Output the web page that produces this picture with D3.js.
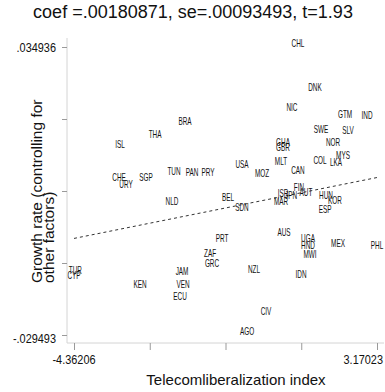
<!DOCTYPE html>
<html>
<head>
<meta charset="utf-8">
<script src="https://cdn.jsdelivr.net/npm/d3@7"></script>
<style>
  body { margin: 0; background: #fff; }
  text { font-family: "Liberation Sans", Arial, sans-serif; }
</style>
</head>
<body>
<div id="chart"></div>
<script>
// country codes, telecom liberalization residual (x), growth residual (y)
const countries = ["CHL","DNK","NIC","GTM","IND","BRA","SWE","SLV","NOR","GHA","GBR","ISL","THA",
  "MLT","COL","LKA","MYS","USA","MOZ","CAN","TUN","PAN","PRY","CHE","URY","SGP","NLD","BEL","SDN",
  "FIN","AUT","ISR","JPN","MAR","HUN","KOR","ESP","AUS","PRT","UGA","HND","MWI","MEX","PHL","ZAF",
  "GRC","JAM","NZL","IDN","KEN","VEN","ECU","CIV","AGO","TUR","CYP"];
const telecomResid = [1.206,1.629,1.057,2.375,2.922,-1.603,1.778,2.449,2.076,0.833,0.833,-3.219,-2.348,
  0.784,1.753,2.151,2.325,-0.186,0.311,1.206,-1.876,-1.429,-1.031,-3.243,-3.069,-2.572,-1.926,-0.534,-0.186,
  1.231,1.405,0.833,1.032,0.784,1.902,2.126,1.878,0.858,-0.683,1.455,1.455,1.505,2.201,3.17023,-0.981,
  -0.932,-1.677,0.113,1.281,-2.721,-1.652,-1.727,0.411,-0.061,-4.33,-4.36206];
const growthResid = [0.034936,0.02509,0.02062,0.01905,0.01883,0.01749,0.0157,0.01547,0.01279,0.01279,0.01167,0.01234,0.01436,
  0.00854,0.00876,0.00831,0.00988,0.00787,0.00585,0.00652,0.0063,0.00608,0.00608,0.00496,0.00339,0.00496,-0.00063,0.00048,-0.00175,
  0.00272,0.0016,0.00116,0.00093,-0.00063,0.00093,-0.00019,-0.0022,-0.00735,-0.00869,-0.00869,-0.01025,-0.01227,-0.00981,-0.0104,-0.01204,
  -0.01428,-0.01607,-0.01562,-0.01674,-0.01898,-0.01898,-0.02166,-0.02502,-0.029493,-0.01585,-0.01697];

const xTickLabels = ["-4.36206", "3.17023"];
const yTickLabels = [".034936", "-.029493"];
const coef = 0.00180871;
const titleText = "coef =.00180871, se=.00093493, t=1.93";
const xTitle = "Telecomliberalization index";
const yTitleLines = ["Growth rate (controlling for", "other factors)"];

const width = 385, height = 392;
const plot = {left: 67, right: 384, top: 38, bottom: 343};

const svg = d3.select("#chart").append("svg")
  .attr("width", width).attr("height", height);
svg.append("rect").attr("width", width).attr("height", height).attr("fill", "#fff");

const xMin = d3.min(telecomResid), xMax = d3.max(telecomResid);
const yMin = d3.min(growthResid), yMax = d3.max(growthResid);

const x = d3.scaleLinear().domain([xMin, xMax]).range([74, 377]);
const y = d3.scaleLinear().domain([yMin, yMax]).range([335, 47]);

// axis lines
svg.append("line").attr("x1", plot.left).attr("x2", plot.left)
  .attr("y1", plot.top).attr("y2", plot.bottom)
  .attr("stroke", "#d4d4d4");
svg.append("line").attr("x1", plot.left).attr("x2", plot.right)
  .attr("y1", plot.bottom).attr("y2", plot.bottom)
  .attr("stroke", "#d4d4d4");

// evenly spaced ticks, only the extremes labelled
const xTicks = d3.range(5).map(i => xMin + i * (xMax - xMin) / 4);
const yTicks = d3.range(5).map(i => yMin + i * (yMax - yMin) / 4);

const gx = svg.append("g").attr("transform", `translate(0,${plot.bottom})`)
  .call(d3.axisBottom(x).tickValues(xTicks).tickSize(7).tickFormat(""));
const gy = svg.append("g").attr("transform", `translate(${plot.left},0)`)
  .call(d3.axisLeft(y).tickValues(yTicks).tickSize(5).tickFormat(""));
[gx, gy].forEach(g => {
  g.select(".domain").remove();
  g.selectAll(".tick line").attr("stroke", "#9a9a9a");
});

// tick labels
const tickFont = 13, squeeze = 0.84;
svg.append("text")
  .attr("transform", `translate(${x(xMin)},364) scale(${squeeze},1)`)
  .attr("text-anchor", "middle").attr("font-size", tickFont).attr("fill", "#111")
  .text(xTickLabels[0]);
svg.append("text")
  .attr("transform", `translate(383,364) scale(${squeeze},1)`)
  .attr("text-anchor", "end").attr("font-size", tickFont).attr("fill", "#111")
  .text(xTickLabels[1]);
svg.append("text")
  .attr("transform", `translate(56,${y(yMax) + 4.5}) scale(${squeeze},1)`)
  .attr("text-anchor", "end").attr("font-size", tickFont).attr("fill", "#111")
  .text(yTickLabels[0]);
svg.append("text")
  .attr("transform", `translate(56,${y(yMin) + 8}) scale(${squeeze},1)`)
  .attr("text-anchor", "end").attr("font-size", tickFont).attr("fill", "#111")
  .text(yTickLabels[1]);

// fitted line through the origin (added-variable plot)
svg.append("path")
  .datum([xMin, xMax])
  .attr("d", d3.line().x(d => x(d)).y(d => y(coef * d)))
  .attr("fill", "none")
  .attr("stroke", "#333")
  .attr("stroke-width", 1)
  .attr("stroke-dasharray", "3,3");

// country labels as markers
svg.append("g").selectAll("text")
  .data(countries)
  .join("text")
  .attr("transform", (d, i) => `translate(${x(telecomResid[i])},${y(growthResid[i]) - 4}) scale(0.64,1)`)
  .attr("text-anchor", "middle")
  .attr("dy", "0.35em")
  .attr("font-size", 10)
  .attr("fill", "#111")
  .text(d => d);

// titles
svg.append("text")
  .attr("x", 193).attr("y", 18)
  .attr("text-anchor", "middle").attr("font-size", 18).attr("fill", "#111")
  .text(titleText);

svg.append("text")
  .attr("x", 236).attr("y", 385)
  .attr("text-anchor", "middle").attr("font-size", 15).attr("fill", "#111")
  .text(xTitle);

svg.append("g")
  .selectAll("text")
  .data(yTitleLines)
  .join("text")
  .attr("transform", (d, i) => `translate(${42 + i * 12},283) rotate(-90)`)
  .attr("text-anchor", "start").attr("font-size", 15.5).attr("fill", "#111")
  .text(d => d);
</script>
</body>
</html>
